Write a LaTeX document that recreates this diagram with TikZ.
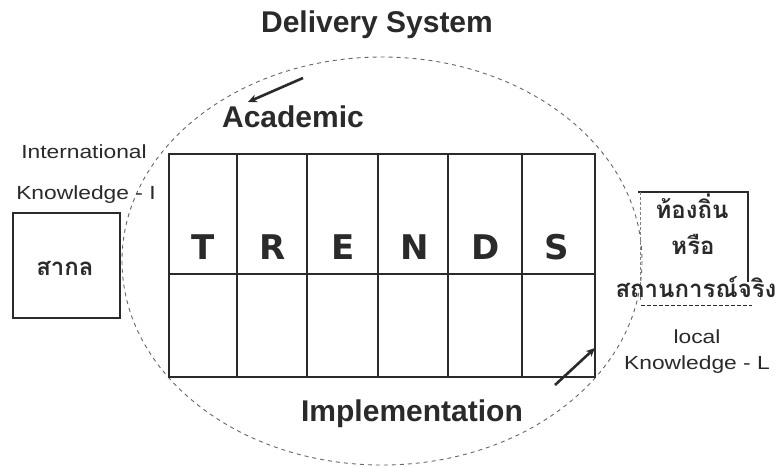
\documentclass[tikz,border=0pt]{standalone}
\usepackage{fontspec}
\setmainfont{Liberation Sans}
\newfontfamily\heavyfont{DejaVu Sans}
\newfontfamily\thaifont[Script=Thai]{Loma}
\usetikzlibrary{arrows.meta}
\definecolor{ink}{HTML}{2A2A2A}
\begin{document}
\begin{tikzpicture}[x=1pt,y=-1pt,
  lbl/.style={text=ink,inner sep=0pt,xscale=1.2,font=\fontsize{19}{21}\selectfont},
  bigbold/.style={text=ink,inner sep=0pt,font=\bfseries\fontsize{30}{33}\selectfont},
  letter/.style={text=ink,inner sep=0pt,font=\heavyfont\bfseries\fontsize{34}{38}\selectfont},
  thai/.style={text=ink,inner sep=0pt,font=\thaifont\bfseries\fontsize{24}{26}\selectfont},
  grid/.style={draw=ink,line width=1.1pt},
  thick box/.style={draw=ink,line width=2.4pt},
  ring/.style={draw=gray!80!black,line width=0.9pt,dash pattern=on 4pt off 4pt},
  pointer/.style={draw=ink,line width=2.6pt,-{Stealth[length=9pt,width=8pt]}}]
\useasboundingbox (0,0) rectangle (784,468);
\fill[white] (0,0) rectangle (784,468);
% delivery system ellipse
\draw[ring] (382,261) ellipse [x radius=260,y radius=204];
\node[bigbold] (title) at (377,25) {Delivery System};
\node[bigbold] (academic) at (293,117) {Academic};
\node[bigbold] (impl) at (412,414) {Implementation};
% trends grid
\foreach \x in {237,307,378,448,522} \draw[grid] (\x,154) -- (\x,377);
\draw[grid] (169,274) -- (595,274);
\draw[thick box] (169,154) rectangle (595,377);
\node[letter] (t) at (203,247) {T};
\node[letter] (r) at (273,247) {R};
\node[letter] (e) at (343,247) {E};
\node[letter] (n) at (415,247) {N};
\node[letter] (d) at (486,247) {D};
\node[letter] (s) at (557,247) {S};
% arrows
\coordinate (acadfrom) at (303,78);
\coordinate (acadto) at (248,102);
\draw[pointer] (acadfrom) -- (acadto);
\coordinate (implfrom) at (555,385);
\coordinate (implto) at (595,348);
\draw[pointer] (implfrom) -- (implto);
% left
\node[lbl] (intl) at (84,152) {International};
\node[lbl] (knowi) at (86,195) {Knowledge - I};
\draw[draw=ink,line width=1.4pt] (13,213) rectangle (120,318);
\node[thai] (sakol) at (65,268) {สากล};
% right
\draw[draw=ink,line width=1.2pt] (638,192) -- (748,192) -- (748,282);
\draw[draw=gray,line width=0.8pt,dash pattern=on 3pt off 2pt] (640,192) -- (640,300);
\draw[draw=ink,line width=0.9pt,dash pattern=on 4pt off 2pt] (641,305) -- (752,305);
\node[thai] (tl1) at (692,206) {ท้องถิ่น};
\node[thai] (tl2) at (693,244) {หรือ};
\node[thai] (tl3) at (696,287) {สถานการณ์จริง};
\node[lbl] (local) at (697,337) {local};
\node[lbl] (knowl) at (697,365) {Knowledge - L};
\end{tikzpicture}
\end{document}
